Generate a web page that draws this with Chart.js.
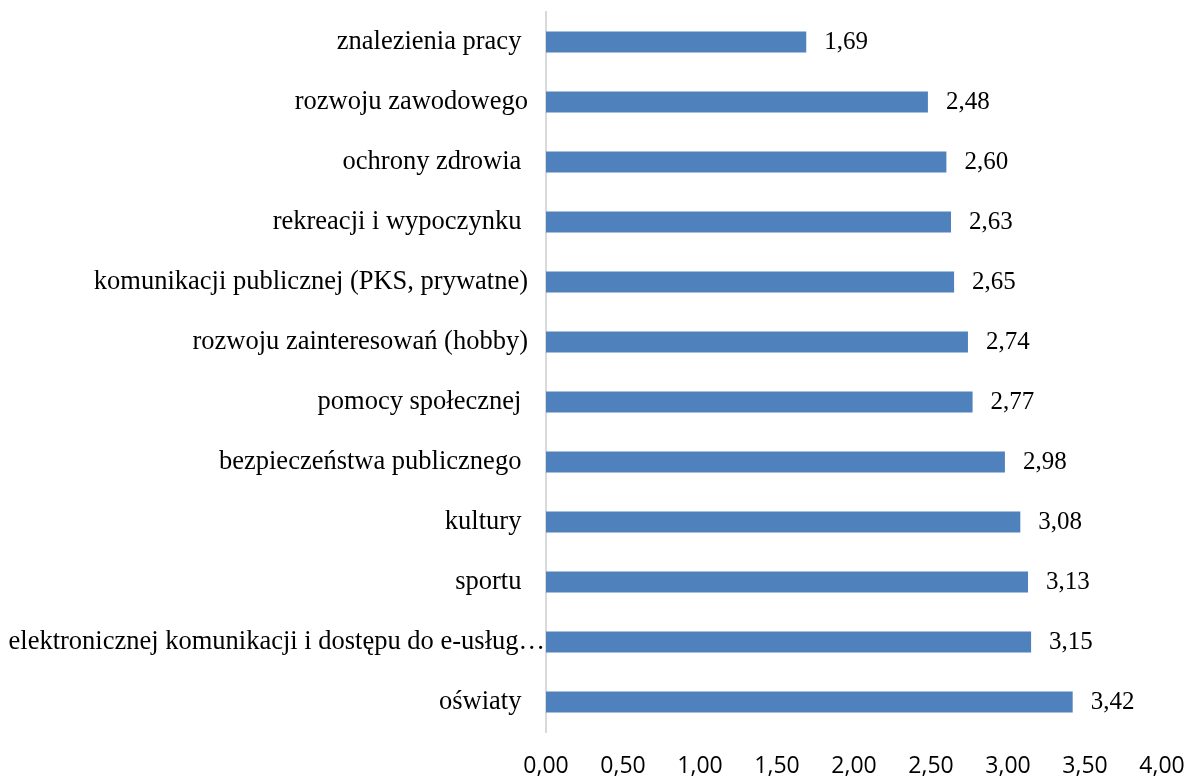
<!DOCTYPE html>
<html>
<head>
<meta charset="utf-8">
<script src="https://cdn.jsdelivr.net/npm/chart.js@4"></script>
<style>
    body { margin: 0; background: #fff; }
    #wrap { width: 1189px; height: 776px; }
</style>
</head>
<body>
<div id="wrap"><canvas id="barChart"></canvas></div>
<script>
// dane
const categories = [
    'znalezienia pracy ',
    'rozwoju zawodowego',
    'ochrony zdrowia ',
    'rekreacji i wypoczynku ',
    'komunikacji publicznej (PKS, prywatne)',
    'rozwoju zainteresowań (hobby)',
    'pomocy społecznej ',
    'bezpieczeństwa publicznego ',
    'kultury ',
    'sportu ',
    'elektronicznej komunikacji i dostępu do e-usług…',
    'oświaty '
];
const values = [1.69, 2.48, 2.60, 2.63, 2.65, 2.74, 2.77, 2.98, 3.08, 3.13, 3.15, 3.42];
const tickLabels = ['0,00', '0,50', '1,00', '1,50', '2,00', '2,50', '3,00', '3,50', '4,00'];

const fmt = v => v.toFixed(2).replace('.', ',');
const serif = '"Liberation Serif", "Times New Roman", serif';

// etykiety kategorii (obciety napis wychodzi az do osi, jak w Excelu)
const categoryLabels = {
    id: 'categoryLabels',
    afterDraw(chart) {
        const ctx = chart.ctx;
        const yScale = chart.scales.y;
        const left = chart.chartArea.left;
        ctx.save();
        ctx.font = '26.5px ' + serif;
        ctx.fillStyle = '#000';
        ctx.textAlign = 'right';
        ctx.textBaseline = 'middle';
        categories.forEach((c, i) => {
            const y = yScale.getPixelForTick(i);
            const x = c.endsWith('…') ? left - 1 : left - 18;
            ctx.fillText(c, x, y);
        });
        ctx.restore();
    }
};

// etykiety wartosci przy slupkach
const valueLabels = {
    id: 'valueLabels',
    afterDatasetsDraw(chart) {
        const ctx = chart.ctx;
        const meta = chart.getDatasetMeta(0);
        ctx.save();
        ctx.font = '25px ' + serif;
        ctx.fillStyle = '#000';
        ctx.textAlign = 'left';
        ctx.textBaseline = 'middle';
        meta.data.forEach((bar, i) => {
            ctx.fillText(fmt(values[i]), bar.x + 18, bar.y);
        });
        ctx.restore();
    }
};

const ctx = document.getElementById('barChart').getContext('2d');
new Chart(ctx, {
    type: 'bar',
    data: {
        labels: categories,
        datasets: [{
            data: values,
            backgroundColor: '#4f81bd',
            borderWidth: 0,
            barPercentage: 0.35,
            categoryPercentage: 1.0
        }]
    },
    options: {
        indexAxis: 'y',
        responsive: true,
        maintainAspectRatio: false,
        animation: false,
        layout: {
            padding: { top: 12, right: 27, bottom: 0, left: 0 }
        },
        scales: {
            x: {
                min: 0,
                max: 4,
                ticks: {
                    stepSize: 0.5,
                    padding: 21,
                    color: '#000',
                    font: { family: '"Open Sans", "Noto Sans", sans-serif', size: 23 },
                    callback: (v, i) => tickLabels[i]
                },
                grid: { display: false, drawTicks: false },
                border: { display: false },
                afterFit: scale => {
                    scale.height = 44;
                    scale.paddingLeft = 0;
                    scale.paddingRight = 0;
                }
            },
            y: {
                ticks: { display: false },
                grid: { display: false, drawTicks: false },
                border: { display: true, color: '#d9d9d9', width: 2 },
                afterFit: scale => {
                    scale.width = 546;
                    scale.paddingTop = 0;
                    scale.paddingBottom = 0;
                }
            }
        },
        plugins: {
            legend: { display: false },
            tooltip: { enabled: false }
        }
    },
    plugins: [valueLabels, categoryLabels]
});
</script>
</body>
</html>
